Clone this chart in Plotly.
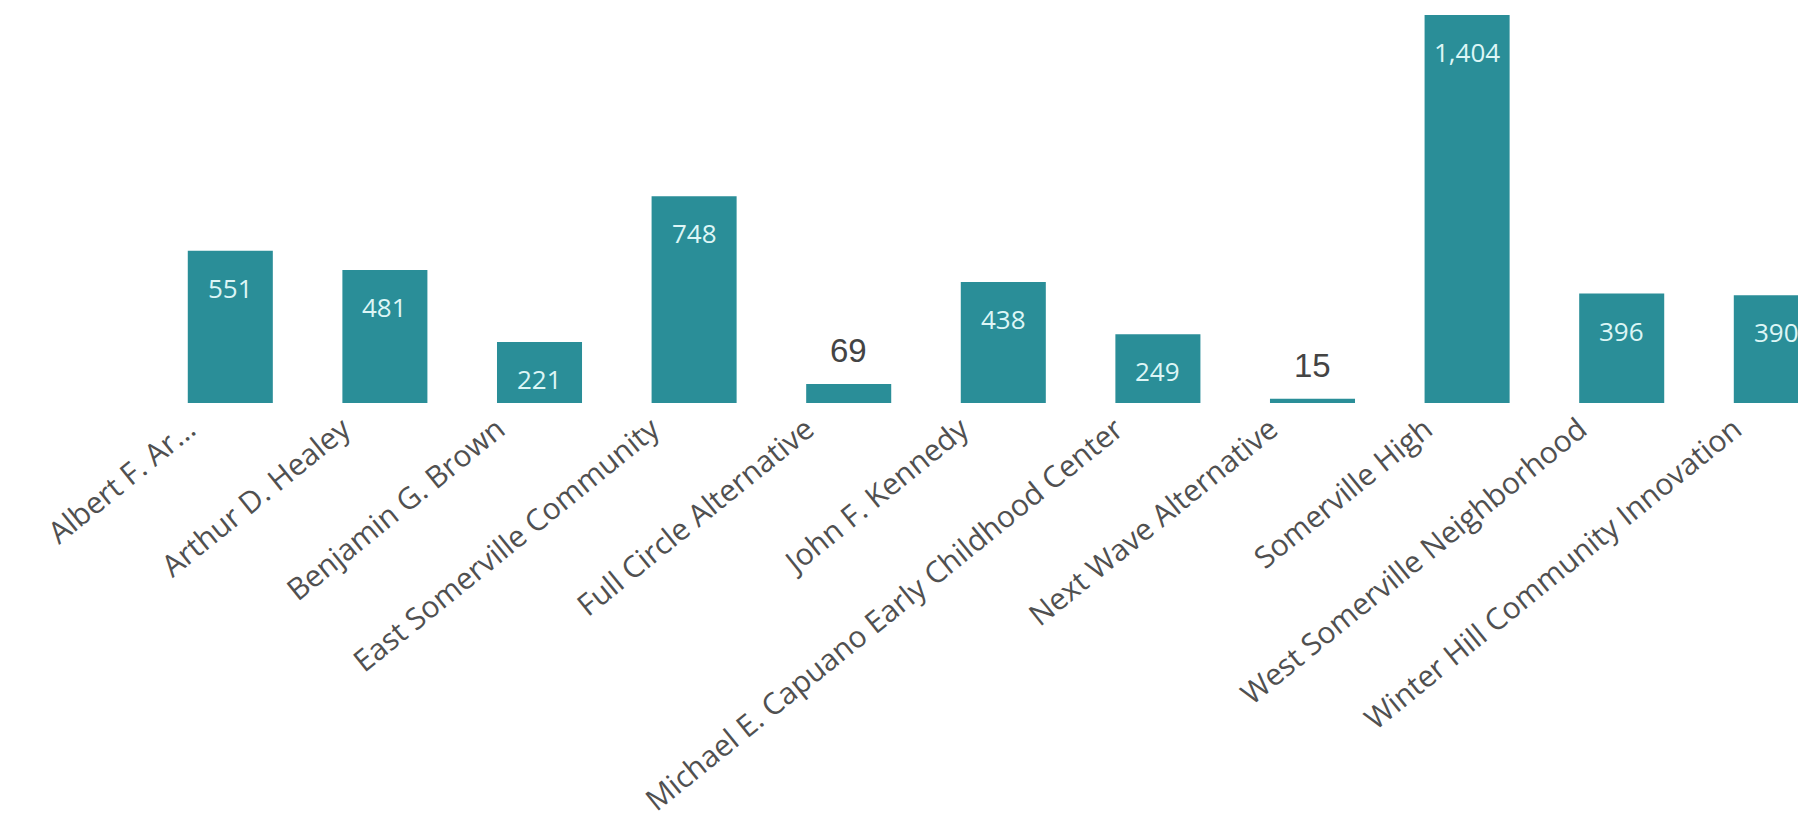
import plotly.graph_objects as go

schools = [
    "Albert F. Ar...",
    "Arthur D. Healey",
    "Benjamin G. Brown",
    "East Somerville Community",
    "Full Circle Alternative",
    "John F. Kennedy",
    "Michael E. Capuano Early Childhood Center",
    "Next Wave Alternative",
    "Somerville High",
    "West Somerville Neighborhood",
    "Winter Hill Community Innovation",
]
enrollment = [551, 481, 221, 748, 69, 438, 249, 15, 1404, 396, 390]

BAR_COLOR = "#2A8E98"
W, H = 1806, 836
ML, MR, MT, MB = 145, 8, 7, 441
step_px = 154.6
plot_w = W - ML - MR
x_hi = -0.5 + plot_w / step_px

fig = go.Figure(
    go.Bar(
        x=list(range(len(schools))),
        y=enrollment,
        marker=dict(color=BAR_COLOR, line=dict(width=0)),
        hoverinfo="skip",
    )
)

annotations = []
for i, v in enumerate(enrollment):
    if v >= 100:
        annotations.append(dict(
            x=i, y=v, xref="x", yref="y", text=f"{v:,}", showarrow=False,
            yanchor="top", yshift=-17,
            font=dict(family="Open Sans", size=26, color="#DDF6F6"),
        ))
    else:
        annotations.append(dict(
            x=i, y=v, xref="x", yref="y", text=f"{v:,}", showarrow=False,
            yanchor="bottom", yshift=13,
            font=dict(family="Arial", size=33, color="#444444"),
        ))

fig.update_layout(
    width=W, height=H, autosize=False,
    margin=dict(l=ML, r=MR, t=MT, b=MB, pad=0),
    paper_bgcolor="white", plot_bgcolor="white",
    bargap=0.45,
    showlegend=False,
    annotations=annotations,
    xaxis=dict(
        range=[-0.5, x_hi],
        tickmode="array",
        tickvals=list(range(len(schools))),
        ticktext=schools,
        tickangle=-39,
        ticklabelshift=-42,
        ticklabelstandoff=2,
        tickfont=dict(family="Open Sans", size=30, color="#505050"),
        showgrid=False, zeroline=False, showline=False, ticks="",
        automargin=False,
    ),
    yaxis=dict(
        range=[0, 1404],
        visible=False,
        showgrid=False, zeroline=False,
    ),
)

fig.write_html("out.html")
